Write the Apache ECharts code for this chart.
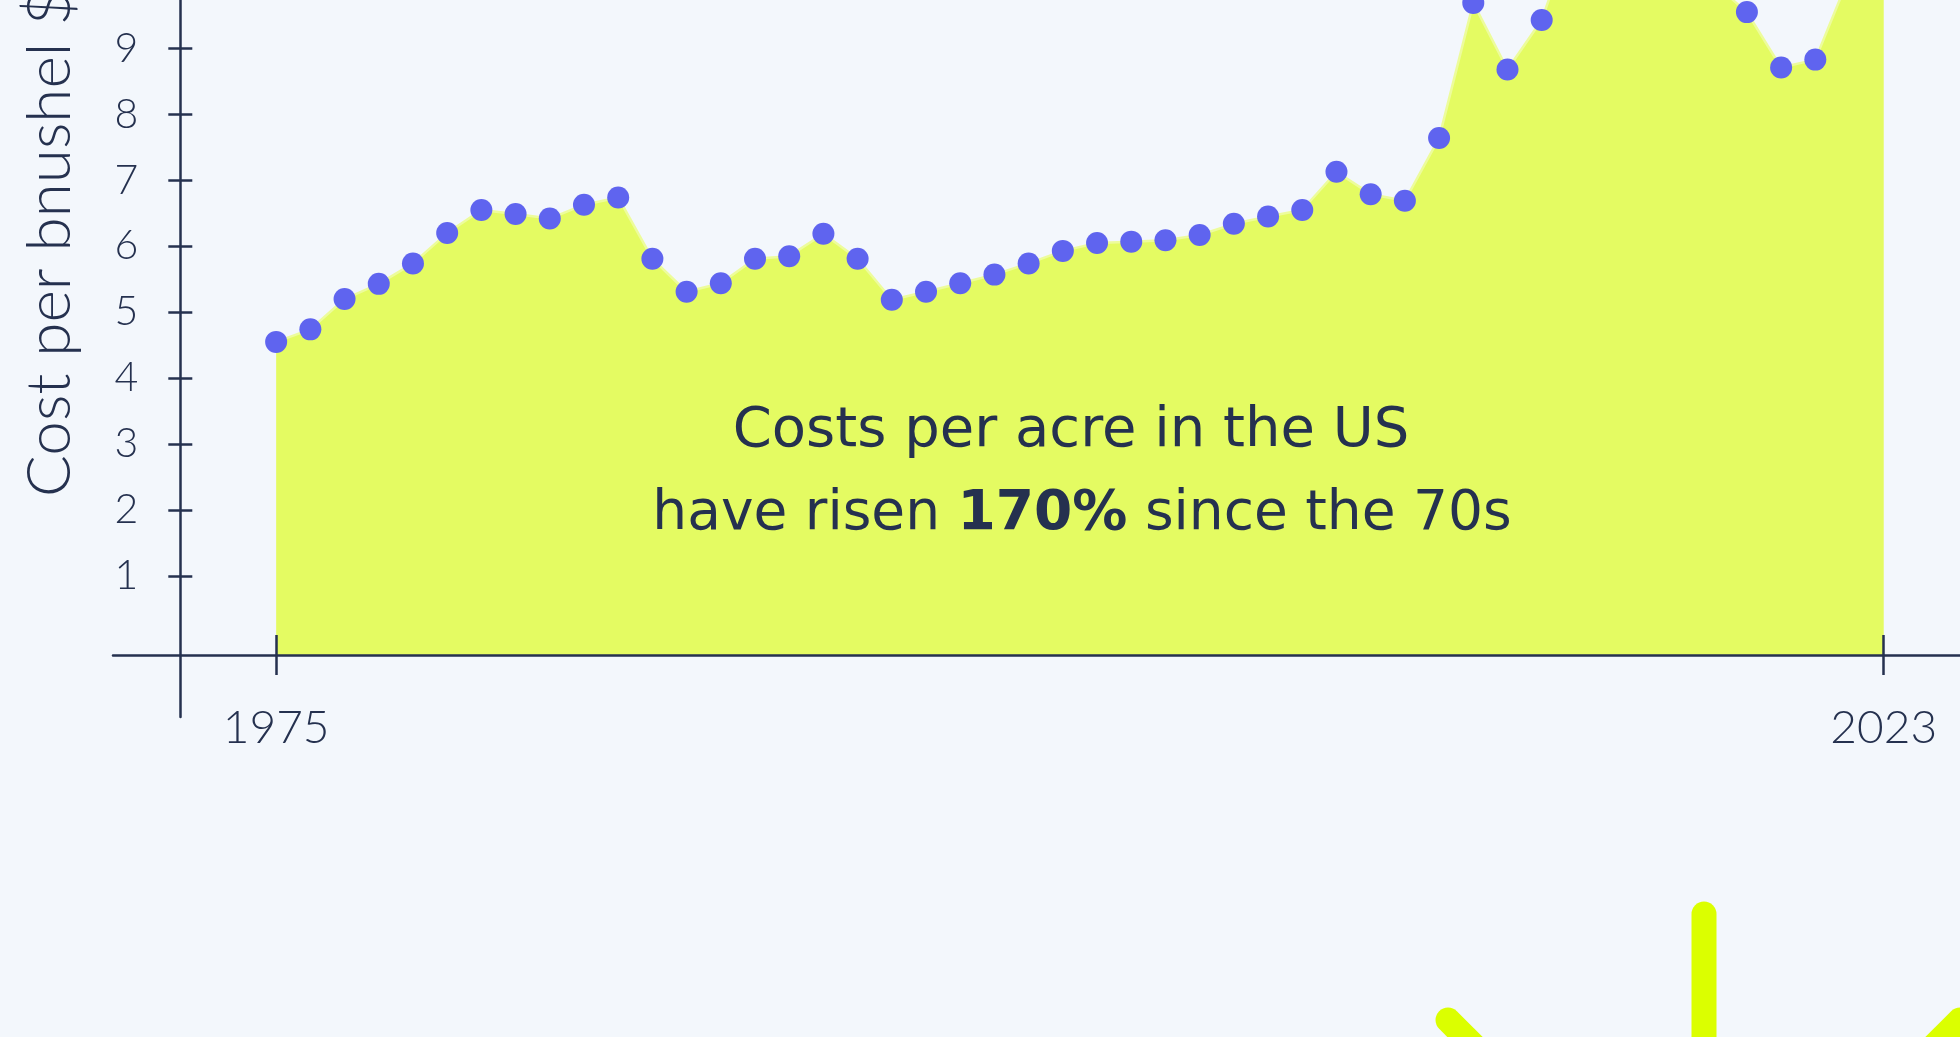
<!DOCTYPE html>
<html>
<head>
<meta charset="utf-8">
<script src="https://cdn.jsdelivr.net/npm/echarts@6/dist/echarts.min.js"></script>
<style>
  html, body { margin: 0; padding: 0; background: #F3F7FC; overflow: hidden; }
  /* the chart is taller than the window: its top is cut off like in the original */
  #main { position: absolute; left: 0; top: -300px; width: 1960px; height: 1337px; }
</style>
</head>
<body>
<div id="main"></div>
<script>
// cost per bushel, one value per point from 1975 on (the top of the series is cut off in the picture)
var costs = [
    4.55, 4.74, 5.20, 5.43, 5.74, 6.20, 6.55, 6.49, 6.42, 6.63,
    6.74, 5.81, 5.31, 5.44, 5.81, 5.85, 6.19, 5.81, 5.19, 5.31,
    5.44, 5.57, 5.74, 5.93, 6.05, 6.07, 6.09, 6.17, 6.34, 6.45,
    6.55, 7.13, 6.79, 6.69, 7.64, 9.69, 8.68, 9.43, 10.9, 11.3,
    11.0, 10.6, 10.0, 9.55, 8.71, 8.83, 10.1, 11.6
];
var xTickLabels = ['1975', '2023'];
var yTicks = [1, 2, 3, 4, 5, 6, 7, 8, 9, 10, 11, 12, 13];

var ink = '#25314F';
var thin = 'Lato';
var shift = 300; // px of chart hidden above the window

var points = costs.map(function (v, i) { return [i, v]; });
var xTickValues = [0, costs.length - 1];

var xMin = -4.77, xMax = 49.23;
var yMin = -1.137, yMax = 14;

var myChart = echarts.init(document.getElementById('main'));

function xAxisCfg(inside, withLabels) {
    return {
        type: 'value',
        min: xMin,
        max: xMax,
        position: 'bottom',
        offset: -62,
        z: 5,
        splitLine: { show: false },
        axisLine: { show: !inside, onZero: false, lineStyle: { color: ink, width: 2.5 } },
        axisTick: {
            show: true, inside: inside, length: 20,
            customValues: xTickValues,
            lineStyle: { color: ink, width: 2.5 }
        },
        axisLabel: {
            show: withLabels,
            customValues: xTickValues,
            margin: 50,
            fontFamily: thin,
            fontWeight: 300,
            fontSize: 46,
            color: ink,
            formatter: function (v) {
                return v === 0 ? xTickLabels[0] : xTickLabels[1];
            }
        }
    };
}

function yAxisCfg(inside, withLabels) {
    return {
        type: 'value',
        min: yMin,
        max: yMax,
        position: 'left',
        offset: -67.3,
        z: 5,
        splitLine: { show: false },
        axisLine: { show: !inside, onZero: false, lineStyle: { color: ink, width: 2.5 } },
        axisTick: {
            show: true, inside: inside, length: 12,
            customValues: yTicks,
            lineStyle: { color: ink, width: 2.5 }
        },
        axisLabel: {
            show: withLabels,
            customValues: yTicks,
            margin: 42,
            fontFamily: thin,
            fontWeight: 300,
            fontSize: 41,
            color: ink
        }
    };
}

// rays of the sun shape in the bottom right corner
var sunX = 1704, sunY = 1276 + shift;
var rays = [-90, -135, -45].map(function (deg) {
    var a = deg * Math.PI / 180;
    return {
        type: 'line',
        z: 1,
        shape: {
            x1: sunX + Math.cos(a) * 362, y1: sunY + Math.sin(a) * 362,
            x2: sunX + Math.cos(a) * 150, y2: sunY + Math.sin(a) * 150
        },
        style: { stroke: '#DBFF00', lineWidth: 25, lineCap: 'round' }
    };
});

var option = {
    backgroundColor: '#F3F7FC',
    animation: false,
    grid: { left: 113, right: 0, top: 18.6, bottom: 320 },
    xAxis: [xAxisCfg(false, true), xAxisCfg(true, false)],
    yAxis: [yAxisCfg(false, true), yAxisCfg(true, false)],
    series: [{
        type: 'line',
        data: points,
        xAxisIndex: 0,
        yAxisIndex: 0,
        symbol: 'circle',
        symbolSize: 22,
        itemStyle: { color: '#5F64EF' },
        lineStyle: { color: '#EDFC9C', width: 2.5 },
        areaStyle: { color: '#E4FB62', opacity: 1, origin: -0.2 },
        z: 2
    }],
    graphic: [
        {
            type: 'text',
            z: 10,
            x: 50,
            y: 497 + shift,
            rotation: Math.PI / 2,
            style: {
                text: 'Cost per bnushel $',
                fontFamily: thin,
                fontWeight: 300,
                fontSize: 62,
                fill: ink,
                align: 'left',
                verticalAlign: 'middle'
            }
        },
        {
            type: 'text',
            z: 10,
            x: 1071,
            y: 431 + shift,
            style: {
                text: 'Costs per acre in the US',
                fontFamily: 'DejaVu Sans',
                fontSize: 56,
                fill: ink,
                align: 'center',
                verticalAlign: 'middle'
            }
        },
        {
            type: 'text',
            z: 10,
            x: 1082,
            y: 515 + shift,
            style: {
                text: 'have risen {b|170%} since the 70s',
                fontFamily: 'DejaVu Sans',
                fontSize: 55,
                fill: ink,
                align: 'center',
                verticalAlign: 'middle',
                rich: {
                    b: { fontFamily: 'DejaVu Sans', fontSize: 55, fontWeight: 'bold', fill: ink }
                }
            }
        }
    ].concat(rays)
};

myChart.setOption(option);
</script>
</body>
</html>
